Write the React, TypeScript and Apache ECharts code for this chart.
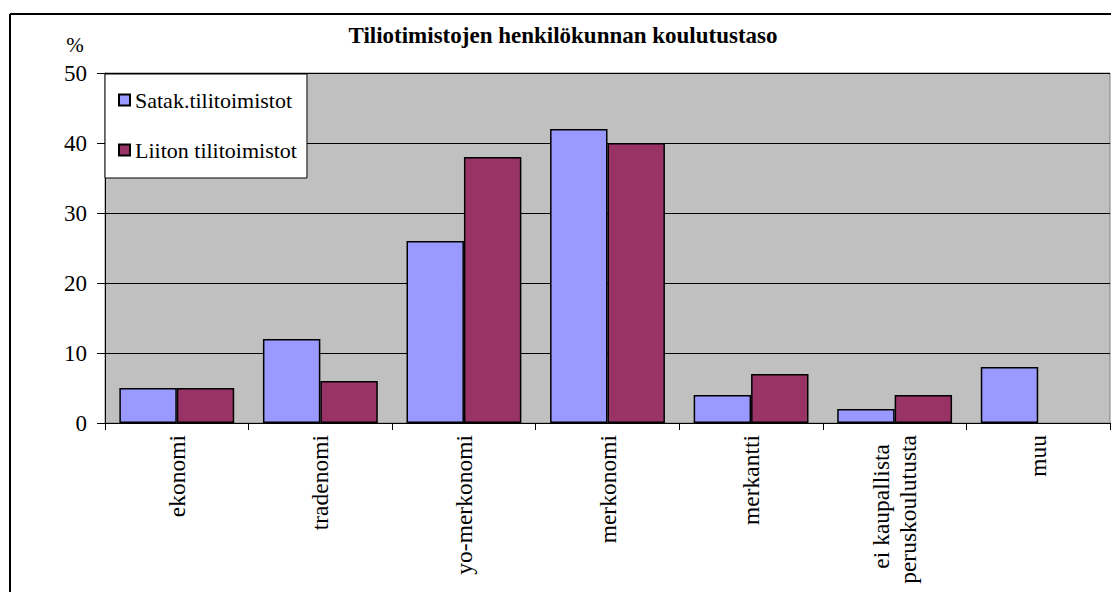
import React, { useEffect, useRef } from "react";
import * as echarts from "echarts";

// Education level categories (x axis)
const categories = [
  "ekonomi",
  "tradenomi",
  "yo-merkonomi",
  "merkonomi",
  "merkantti",
  "ei kaupallista\nperuskoulutusta",
  "muu",
];

// Share of staff, %
const satakValues = [5, 12, 26, 42, 4, 2, 8];
const liittoValues = [5, 6, 38, 40, 7, 4, null];

const seriesNames = ["Satak.tilitoimistot", "Liiton tilitoimistot"];
const yTicks = { min: 0, max: 50, interval: 10 };

const FONT = "Liberation Serif";

export default function App() {
  const ref = useRef<HTMLDivElement>(null);

  useEffect(() => {
    document.body.style.margin = "0";
    const chart = echarts.init(ref.current!, null, { renderer: "svg" });

    chart.setOption({
      animation: false,
      backgroundColor: "#ffffff",
      textStyle: { fontFamily: FONT, color: "#000" },
      grid: {
        left: 105,
        right: 1,
        top: 73,
        bottom: 169,
        show: true,
        backgroundColor: "#C0C0C0",
        borderColor: "#808080",
        borderWidth: 1,
      },
      legend: {
        orient: "vertical",
        left: 105,
        top: 74,
        padding: [15, 10, 17, 13],
        itemGap: 28,
        itemWidth: 11,
        itemHeight: 11,
        itemTextGap: 8,
        icon: "rect",
        backgroundColor: "#ffffff",
        borderColor: "#000000",
        borderWidth: 1,
        textStyle: { fontFamily: FONT, fontSize: 22, color: "#000" },
        data: seriesNames,
      },
      xAxis: {
        type: "category",
        data: categories,
        axisLine: { show: true, lineStyle: { color: "#000", width: 1 } },
        axisTick: { show: true, length: 7, lineStyle: { color: "#000" } },
        axisLabel: {
          interval: 0,
          rotate: 90,
          margin: 12,
          fontFamily: FONT,
          fontSize: 23.5,
          color: "#000",
          formatter: (v: string) => {
            const lines = v.split("\n");
            if (lines.length === 1) return v;
            return `{a|${lines[0]}}{s|}\n{a|${lines[1]}}`;
          },
          rich: {
            a: { fontFamily: FONT, fontSize: 23.5, color: "#000", lineHeight: 27 },
            s: { width: 9 },
          },
        },
      },
      yAxis: {
        type: "value",
        min: yTicks.min,
        max: yTicks.max,
        interval: yTicks.interval,
        axisLine: { show: true, lineStyle: { color: "#000", width: 1 } },
        axisTick: { show: true, length: 8, lineStyle: { color: "#000" } },
        axisLabel: {
          margin: 18,
          fontFamily: FONT,
          fontSize: 23,
          color: "#000",
        },
        splitLine: { show: true, lineStyle: { color: "#000", width: 1 } },
      },
      graphic: [
        // outer chart frame (left and top edges)
        {
          type: "line",
          shape: { x1: 10, y1: 14, x2: 10, y2: 592 },
          style: { stroke: "#000", lineWidth: 2 },
        },
        {
          type: "line",
          shape: { x1: 10, y1: 14, x2: 1111, y2: 14 },
          style: { stroke: "#000", lineWidth: 2 },
        },
        {
          type: "text",
          x: 563,
          y: 35,
          style: {
            text: "Tiliotimistojen henkilökunnan koulutustaso",
            fontFamily: FONT,
            fontSize: 23,
            fontWeight: "bold",
            fill: "#000",
            textAlign: "center",
            textVerticalAlign: "middle",
          },
        },
        {
          type: "text",
          x: 75,
          y: 45,
          style: {
            text: "%",
            fontFamily: FONT,
            fontSize: 21,
            fill: "#000",
            textAlign: "center",
            textVerticalAlign: "middle",
          },
        },
      ],
      series: [
        {
          name: seriesNames[0],
          type: "bar",
          data: satakValues,
          barGap: "0%",
          barCategoryGap: "20%",
          itemStyle: { color: "#9999FF", borderColor: "#000", borderWidth: 1.5 },
        },
        {
          name: seriesNames[1],
          type: "bar",
          data: liittoValues,
          barGap: "0%",
          barCategoryGap: "20%",
          itemStyle: { color: "#993366", borderColor: "#000", borderWidth: 1.5 },
        },
      ],
    });

    return () => chart.dispose();
  }, []);

  return (
    <div
      ref={ref}
      style={{ position: "fixed", left: 0, top: 0, width: 1111, height: 592 }}
    />
  );
}
